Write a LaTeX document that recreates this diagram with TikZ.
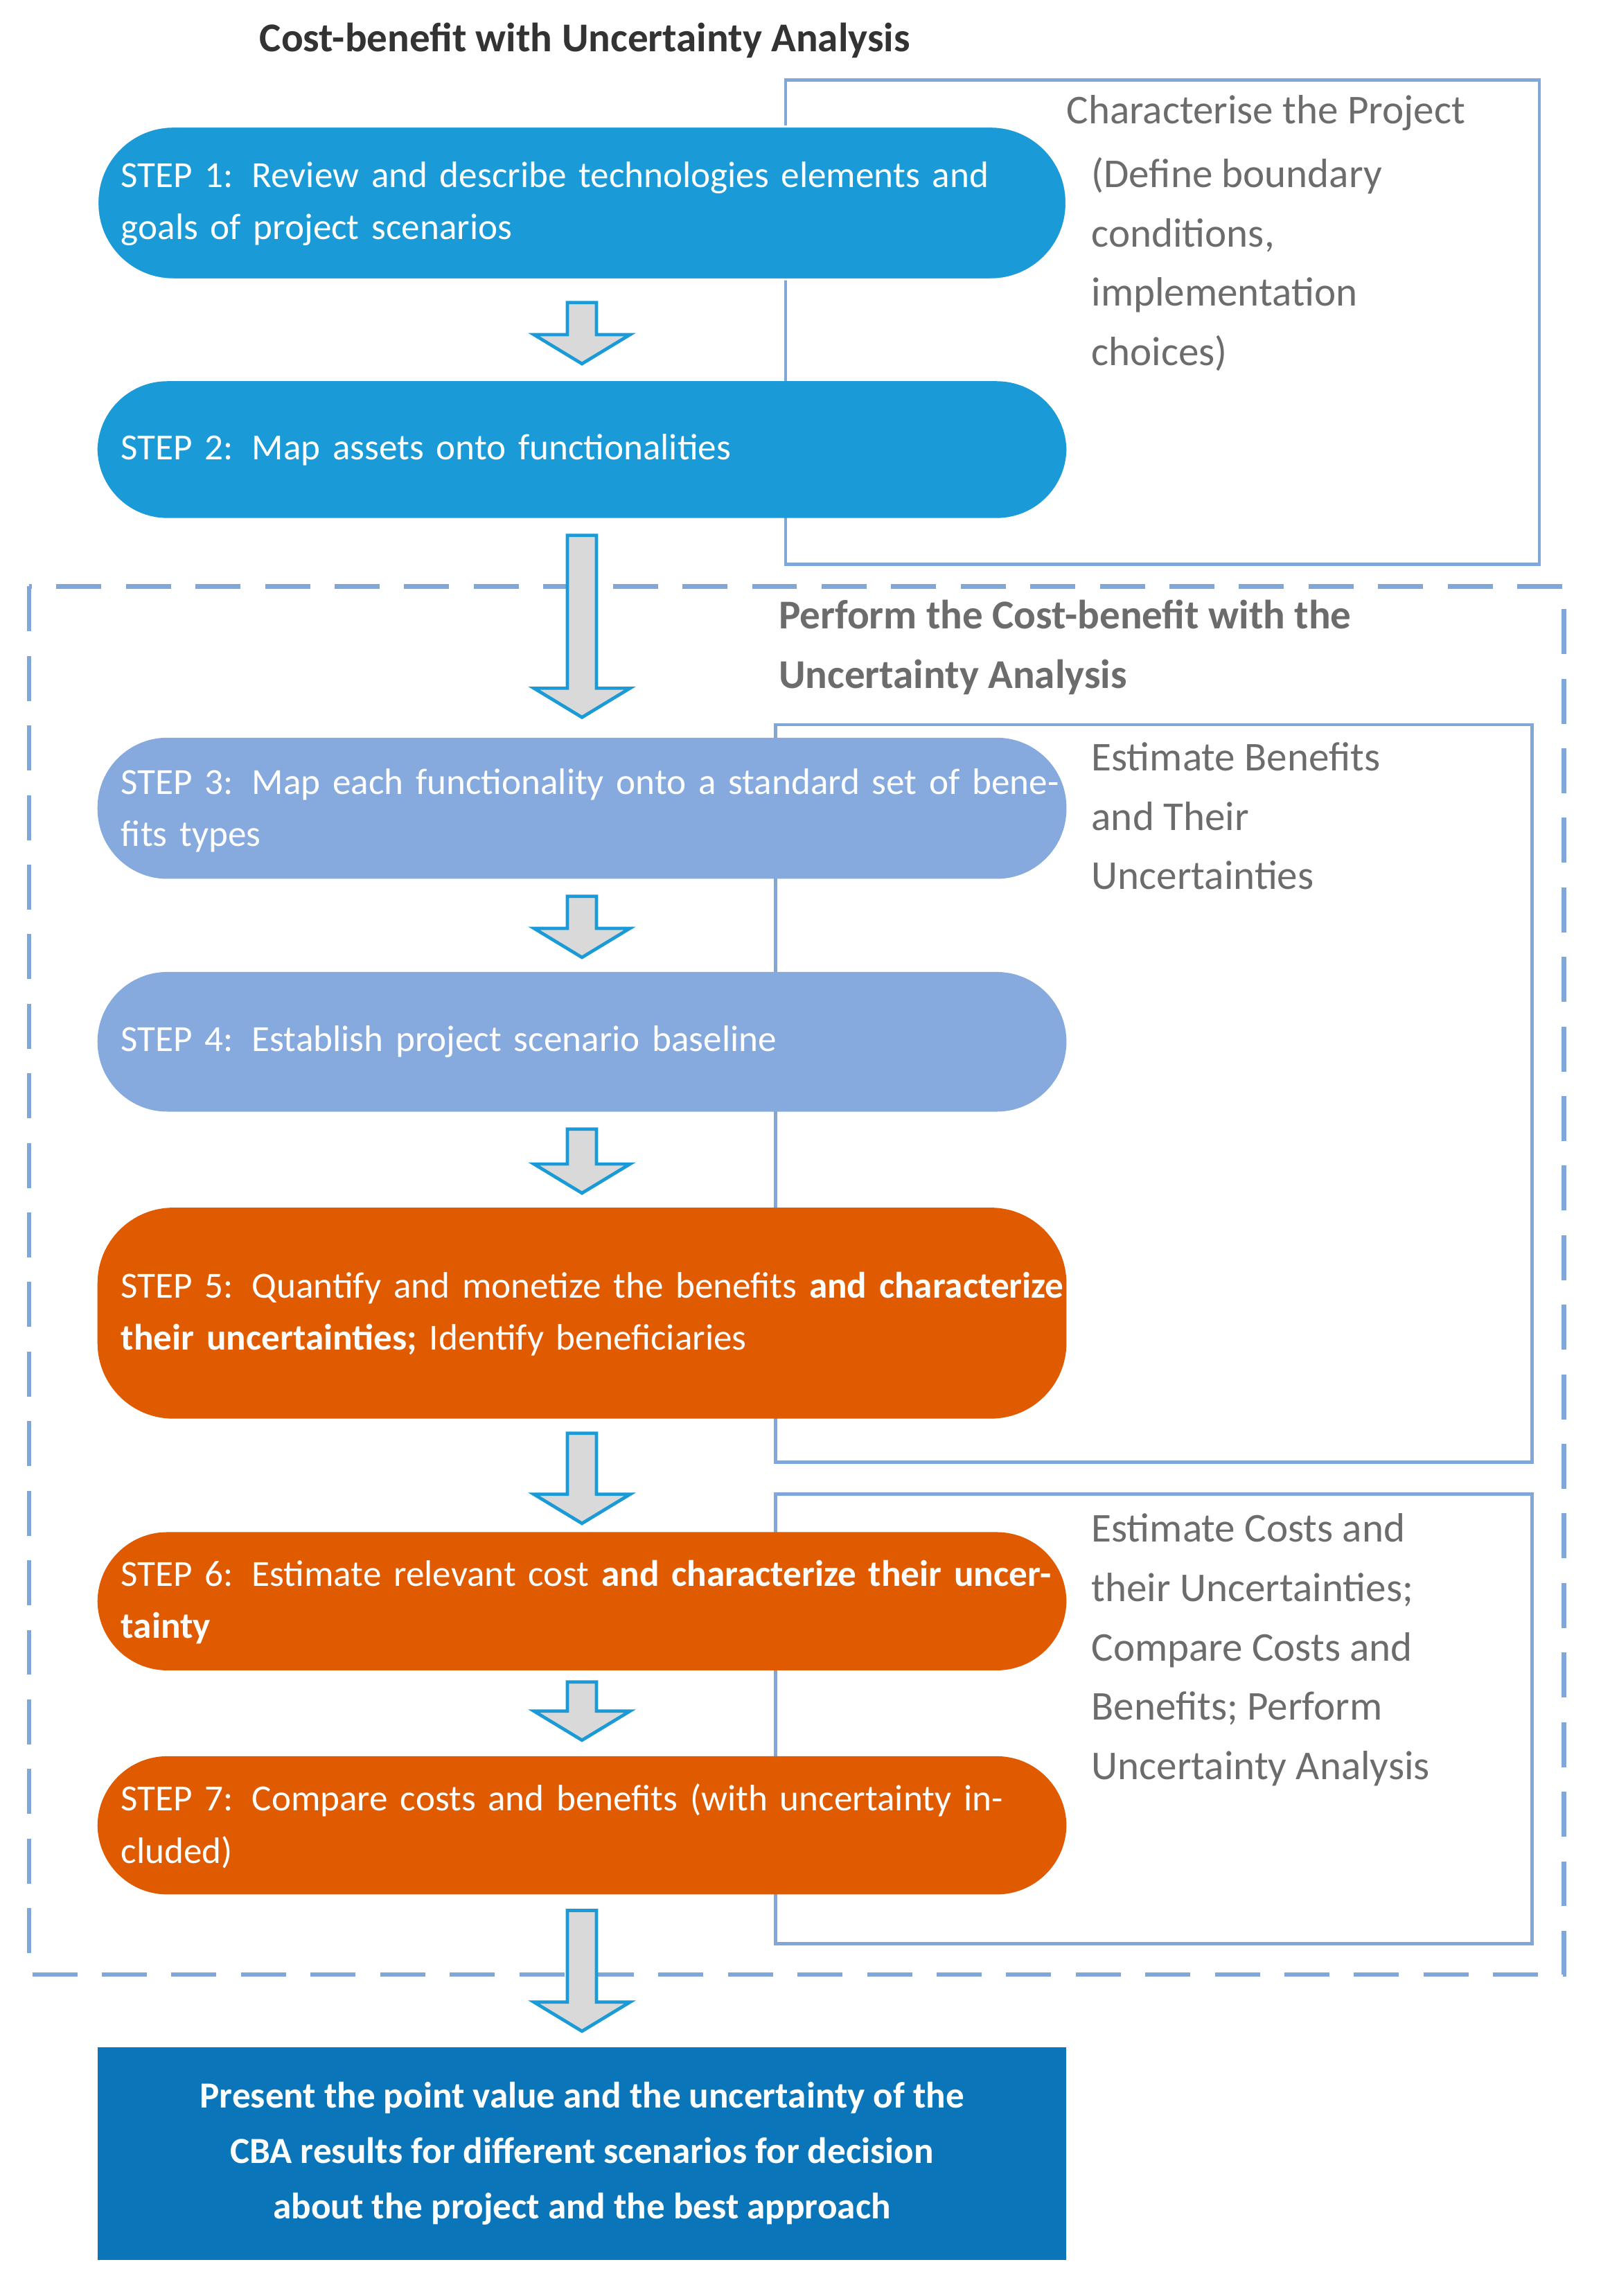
\documentclass[tikz,border=0pt]{standalone}
\usepackage{fontspec}
\setmainfont{Carlito}
\begin{document}
\begin{tikzpicture}[x=0.025cm,y=-0.025cm,
  frame/.style={draw=blue!30!cyan!40!gray!80, draw={rgb,255:red,127;green,167;blue,217}, line width=1.6pt},
  side/.style={anchor=north west, align=left, text=gray!85!black, font=\fontsize{20}{29}\selectfont, inner sep=0},
  steptxt/.style={anchor=west, align=left, text=white, text width=16.3cm, font=\fontsize{18}{25.5}\selectfont, inner sep=0},
  arr/.style={fill=gray!30, draw={rgb,255:red,26;green,154;blue,214}, line width=1.6pt, line join=miter}]
\definecolor{cyanb}{RGB}{26,154,214}
\definecolor{lightb}{RGB}{134,170,221}
\definecolor{orng}{RGB}{224,90,0}
\definecolor{darkb}{RGB}{10,117,184}
\useasboundingbox (0,0) rectangle (1100,1578);
\newcommand\blockarrow[2]{\draw[arr] (390,#1) -- (410,#1) -- (410,#2-20) -- (433,#2-20) -- (400,#2) -- (367,#2-20) -- (390,#2-20) -- cycle;}
\node[anchor=center, font=\bfseries\fontsize{20}{24}\selectfont, text=gray!40!black] (title) at (402,28) {Cost-benefit with Uncertainty Analysis};
% frames
\draw[frame] (540,55) rectangle (1058,388);
\draw[frame, dash pattern=on 22pt off 12pt, line width=2.2pt] (20,403) rectangle (1075,1357);
\draw[frame] (533,498) rectangle (1053,1005);
\draw[frame] (533,1027) rectangle (1053,1336);
\node[side, anchor=north] (c1) at (870,65) {Characterise the Project};
\node[side] (c2) at (750,108) {(Define boundary\\conditions,\\implementation\\choices)};
\node[side, font=\bfseries\fontsize{20}{29}\selectfont] (pf) at (535,412) {Perform the Cost-benefit with the\\Uncertainty Analysis};
\node[side] (eb) at (750,510) {Estimate Benefits\\and Their\\Uncertainties};
\node[side] (ec) at (750,1040) {Estimate Costs and\\their Uncertainties;\\Compare Costs and\\Benefits; Perform\\Uncertainty Analysis};
% steps
\fill[cyanb, draw=white, line width=1pt, rounded corners=1.3cm] (67,87) rectangle (733,192);
\node[steptxt] (s1) at (83,140) {STEP 1: Review and describe technologies elements and goals of project scenarios};
\fill[cyanb, rounded corners=1.2cm] (67,262) rectangle (733,356);
\node[steptxt] (s2) at (83,309) {STEP 2: Map assets onto functionalities};
\fill[lightb, rounded corners=1.2cm] (67,507) rectangle (733,604);
\node[steptxt] (s3) at (83,557) {STEP 3: Map each functionality onto a standard set of benefits types};
\fill[lightb, rounded corners=1.2cm] (67,668) rectangle (733,764);
\node[steptxt] (s4) at (83,716) {STEP 4: Establish project scenario baseline};
\fill[orng, rounded corners=1.3cm] (67,830) rectangle (733,975);
\node[steptxt] (s5) at (83,903) {STEP 5: Quantify and monetize the benefits \textbf{and characterize their uncertainties;} Identify beneficiaries};
\fill[orng, rounded corners=1.2cm] (67,1053) rectangle (733,1148);
\node[steptxt] (s6) at (83,1101) {STEP 6: Estimate relevant cost \textbf{and characterize their uncertainty}};
\fill[orng, rounded corners=1.2cm] (67,1207) rectangle (733,1302);
\node[steptxt] (s7) at (83,1255) {STEP 7: Compare costs and benefits (with uncertainty included)};
\fill[darkb] (67,1407) rectangle (733,1553);
\node[align=center, text=white, font=\bfseries\fontsize{18}{27}\selectfont] (fin) at (400,1480) {Present the point value and the uncertainty of the\\CBA results for different scenarios for decision\\about the project and the best approach};
% arrows
\blockarrow{208}{250}
\blockarrow{368}{493}
\blockarrow{616}{658}
\blockarrow{776}{820}
\blockarrow{985}{1047}
\blockarrow{1156}{1196}
\blockarrow{1313}{1396}
\end{tikzpicture}
\end{document}
